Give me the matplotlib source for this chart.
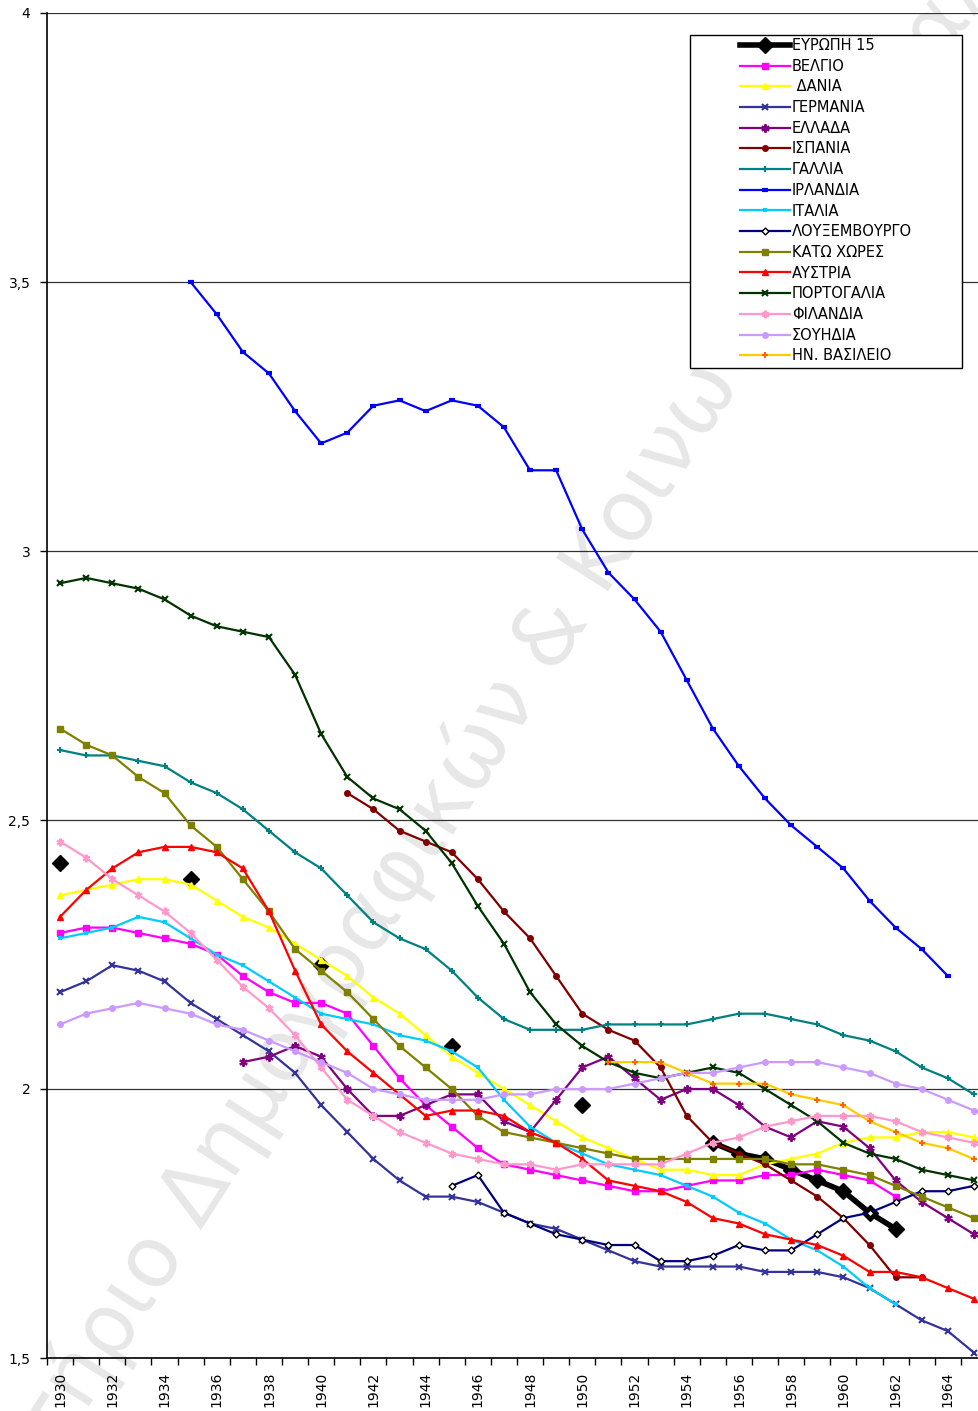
import numpy as np
import matplotlib
matplotlib.use('Agg')
import matplotlib.pyplot as plt
from matplotlib.patches import Rectangle
from matplotlib.ticker import FixedLocator, NullFormatter

YEARS = np.arange(1930, 1966)

# Europe 15: a few isolated early years, then a continuous run
EU15_YEARS = [1930, 1935, 1940, 1945, 1950, 1955, 1956, 1957, 1958, 1959, 1960, 1961, 1962]
EU15 = [2.42, 2.39, 2.23, 2.08, 1.97, 1.90, 1.88, 1.87, 1.85, 1.83, 1.81, 1.77, 1.74]

# each country: first year of data, then yearly values
BELGIUM_START = 1930
BELGIUM = [2.29, 2.30, 2.30, 2.29, 2.28, 2.27, 2.25, 2.21, 2.18, 2.16,
           2.16, 2.14, 2.08, 2.02, 1.97, 1.93, 1.89, 1.86, 1.85, 1.84,
           1.83, 1.82, 1.81, 1.81, 1.82, 1.83, 1.83, 1.84, 1.84, 1.85,
           1.84, 1.83, 1.80]
DENMARK_START = 1930
DENMARK = [2.36, 2.37, 2.38, 2.39, 2.39, 2.38, 2.35, 2.32, 2.30, 2.27,
           2.24, 2.21, 2.17, 2.14, 2.10, 2.06, 2.03, 2.00, 1.97, 1.94,
           1.91, 1.89, 1.87, 1.85, 1.85, 1.84, 1.84, 1.86, 1.87, 1.88,
           1.90, 1.91, 1.91, 1.92, 1.92, 1.91]
GERMANY_START = 1930
GERMANY = [2.18, 2.20, 2.23, 2.22, 2.20, 2.16, 2.13, 2.10, 2.07, 2.03,
           1.97, 1.92, 1.87, 1.83, 1.80, 1.80, 1.79, 1.77, 1.75, 1.74,
           1.72, 1.70, 1.68, 1.67, 1.67, 1.67, 1.67, 1.66, 1.66, 1.66,
           1.65, 1.63, 1.60, 1.57, 1.55, 1.51]
GREECE_START = 1937
GREECE = [2.05, 2.06, 2.08,
          2.06, 2.00, 1.95, 1.95, 1.97, 1.99, 1.99, 1.94, 1.92, 1.98,
          2.04, 2.06, 2.02, 1.98, 2.00, 2.00, 1.97, 1.93, 1.91, 1.94,
          1.93, 1.89, 1.83, 1.79, 1.76, 1.73]
SPAIN_START = 1941
SPAIN = [2.55, 2.52, 2.48, 2.46, 2.44, 2.39, 2.33, 2.28, 2.21,
         2.14, 2.11, 2.09, 2.04, 1.95, 1.90, 1.88, 1.86, 1.83, 1.80,
         1.76, 1.71, 1.65, 1.65]
FRANCE_START = 1930
FRANCE = [2.63, 2.62, 2.62, 2.61, 2.60, 2.57, 2.55, 2.52, 2.48, 2.44,
          2.41, 2.36, 2.31, 2.28, 2.26, 2.22, 2.17, 2.13, 2.11, 2.11,
          2.11, 2.12, 2.12, 2.12, 2.12, 2.13, 2.14, 2.14, 2.13, 2.12,
          2.10, 2.09, 2.07, 2.04, 2.02, 1.99]
IRELAND_START = 1935
IRELAND = [3.50, 3.44, 3.37, 3.33, 3.26,
           3.20, 3.22, 3.27, 3.28, 3.26, 3.28, 3.27, 3.23, 3.15, 3.15,
           3.04, 2.96, 2.91, 2.85, 2.76, 2.67, 2.60, 2.54, 2.49, 2.45,
           2.41, 2.35, 2.30, 2.26, 2.21]
ITALY_START = 1930
ITALY = [2.28, 2.29, 2.30, 2.32, 2.31, 2.28, 2.25, 2.23, 2.20, 2.17,
         2.14, 2.13, 2.12, 2.10, 2.09, 2.07, 2.04, 1.98, 1.93, 1.90,
         1.88, 1.86, 1.85, 1.84, 1.82, 1.80, 1.77, 1.75, 1.72, 1.70,
         1.67, 1.63, 1.60]
LUXEMBOURG_START = 1945
LUXEMBOURG = [1.82, 1.84, 1.77, 1.75, 1.73,
              1.72, 1.71, 1.71, 1.68, 1.68, 1.69, 1.71, 1.70, 1.70, 1.73,
              1.76, 1.77, 1.79, 1.81, 1.81, 1.82]
NETHERLANDS_START = 1930
NETHERLANDS = [2.67, 2.64, 2.62, 2.58, 2.55, 2.49, 2.45, 2.39, 2.33, 2.26,
               2.22, 2.18, 2.13, 2.08, 2.04, 2.00, 1.95, 1.92, 1.91, 1.90,
               1.89, 1.88, 1.87, 1.87, 1.87, 1.87, 1.87, 1.87, 1.86, 1.86,
               1.85, 1.84, 1.82, 1.80, 1.78, 1.76]
AUSTRIA_START = 1930
AUSTRIA = [2.32, 2.37, 2.41, 2.44, 2.45, 2.45, 2.44, 2.41, 2.33, 2.22,
           2.12, 2.07, 2.03, 1.99, 1.95, 1.96, 1.96, 1.95, 1.92, 1.90,
           1.87, 1.83, 1.82, 1.81, 1.79, 1.76, 1.75, 1.73, 1.72, 1.71,
           1.69, 1.66, 1.66, 1.65, 1.63, 1.61]
PORTUGAL_START = 1930
PORTUGAL = [2.94, 2.95, 2.94, 2.93, 2.91, 2.88, 2.86, 2.85, 2.84, 2.77,
            2.66, 2.58, 2.54, 2.52, 2.48, 2.42, 2.34, 2.27, 2.18, 2.12,
            2.08, 2.05, 2.03, 2.02, 2.03, 2.04, 2.03, 2.00, 1.97, 1.94,
            1.90, 1.88, 1.87, 1.85, 1.84, 1.83]
FINLAND_START = 1930
FINLAND = [2.46, 2.43, 2.39, 2.36, 2.33, 2.29, 2.24, 2.19, 2.15, 2.10,
           2.04, 1.98, 1.95, 1.92, 1.90, 1.88, 1.87, 1.86, 1.86, 1.85,
           1.86, 1.86, 1.86, 1.86, 1.88, 1.90, 1.91, 1.93, 1.94, 1.95,
           1.95, 1.95, 1.94, 1.92, 1.91, 1.90]
SWEDEN_START = 1930
SWEDEN = [2.12, 2.14, 2.15, 2.16, 2.15, 2.14, 2.12, 2.11, 2.09, 2.07,
          2.05, 2.03, 2.00, 1.99, 1.98, 1.98, 1.98, 1.99, 1.99, 2.00,
          2.00, 2.00, 2.01, 2.02, 2.03, 2.03, 2.04, 2.05, 2.05, 2.05,
          2.04, 2.03, 2.01, 2.00, 1.98, 1.96]
UK_START = 1951
UK = [2.05, 2.05, 2.05, 2.03, 2.01, 2.01, 2.01, 1.99, 1.98,
      1.97, 1.94, 1.92, 1.90, 1.89, 1.87]

Y_TICKS = [1.5, 2, 2.5, 3, 3.5, 4]
Y_LABELS = ['1,5', '2', '2,5', '3', '3,5', '4']
X_LABEL_YEARS = list(range(1930, 1966, 2))

WATERMARK = 'Εργαστήριο Δημογραφικών & Κοινωνικών Αναλύσεων'


def pad(start, values):
    """Spread a series over the full year range, NaN where there is no data"""
    out = np.full(len(YEARS), np.nan)
    i = start - YEARS[0]
    out[i:i + len(values)] = values
    return out


def eu15_full():
    out = np.full(len(YEARS), np.nan)
    for y, v in zip(EU15_YEARS, EU15):
        out[y - YEARS[0]] = v
    return out


ASTERISK = (6, 2, 0)

# label, data, line colour, marker, marker size, marker face, marker edge
SERIES = [
    ('ΒΕΛΓΙΟ', pad(BELGIUM_START, BELGIUM), '#FF00FF', 's', 4, '#FF00FF', '#FF00FF'),
    (' ΔΑΝΙΑ', pad(DENMARK_START, DENMARK), '#FFFF00', '^', 5, '#FFFF00', '#FFFF00'),
    ('ΓΕΡΜΑΝΙΑ', pad(GERMANY_START, GERMANY), '#333399', 'x', 4, '#333399', '#333399'),
    ('ΕΛΛΑΔΑ', pad(GREECE_START, GREECE), '#800080', ASTERISK, 6, '#800080', '#800080'),
    ('ΙΣΠΑΝΙΑ', pad(SPAIN_START, SPAIN), '#800000', 'o', 4, '#800000', '#800000'),
    ('ΓΑΛΛΙΑ', pad(FRANCE_START, FRANCE), '#008080', '+', 5, '#008080', '#008080'),
    ('ΙΡΛΑΝΔΙΑ', pad(IRELAND_START, IRELAND), '#0000FF', '_', 4, '#0000FF', '#0000FF'),
    ('ΙΤΑΛΙΑ', pad(ITALY_START, ITALY), '#00CCFF', '_', 3, '#00CCFF', '#00CCFF'),
    ('ΛΟΥΞΕΜΒΟΥΡΓΟ', pad(LUXEMBOURG_START, LUXEMBOURG), '#000080', 'D', 3.5, 'white', 'black'),
    ('ΚΑΤΩ ΧΩΡΕΣ', pad(NETHERLANDS_START, NETHERLANDS), '#808000', 's', 5, '#808000', '#808000'),
    ('ΑΥΣΤΡΙΑ', pad(AUSTRIA_START, AUSTRIA), '#FF0000', '^', 5, '#FF0000', '#FF0000'),
    ('ΠΟΡΤΟΓΑΛΙΑ', pad(PORTUGAL_START, PORTUGAL), '#003300', 'x', 5, '#003300', '#003300'),
    ('ΦΙΛΑΝΔΙΑ', pad(FINLAND_START, FINLAND), '#FF99CC', ASTERISK, 5.5, '#FF99CC', '#FF99CC'),
    ('ΣΟΥΗΔΙΑ', pad(SWEDEN_START, SWEDEN), '#CC99FF', 'o', 4, '#CC99FF', '#CC99FF'),
    ('ΗΝ. ΒΑΣΙΛΕΙΟ', pad(UK_START, UK), '#FFCC00', '+', 5, '#FF6600', '#FF6600'),
]

plt.rcParams['font.family'] = ['DejaVu Sans']

W, H = 979, 1411
fig = plt.figure(figsize=(W / 100, H / 100), dpi=100)
fig.patch.set_facecolor('white')

# plot area in pixels: left 47, top 13, bottom 1358, right runs off the image
ax = fig.add_axes([47 / W, 1 - 1358 / H, (987 - 47) / W, (1358 - 13) / H])
ax.patch.set_alpha(0)

# watermark behind everything
fig.text(508 / W, 1 - 702 / H, WATERMARK, fontsize=61, color='#e7e7e7',
         rotation=57.5, ha='center', va='center', rotation_mode='anchor', zorder=-5)

handles = []
h, = ax.plot(YEARS, eu15_full(), color='black', lw=4, marker='D', ms=8,
             mfc='black', mec='black', label='ΕΥΡΩΠΗ 15', solid_joinstyle='round')
handles.append(h)
for label, data, col, mk, ms, mfc, mec in SERIES:
    mew = 1.5 if mk in ('x', '+', ASTERISK) else 1
    if mk == '_':
        mew = 3
    h, = ax.plot(YEARS, data, color=col, lw=1.6, marker=mk, ms=ms,
                 mfc=mfc, mec=mec, mew=mew, label=label)
    handles.append(h)

ax.set_xlim(1929.5, 1965.5)
ax.set_ylim(1.5, 4)

ax.yaxis.set_major_locator(FixedLocator(Y_TICKS))
ax.set_yticklabels(Y_LABELS, fontsize=10)
ax.tick_params(axis='y', direction='out', length=5, width=1, pad=7)
ax.grid(axis='y', color='#333333', lw=0.9)
ax.set_axisbelow(True)

ax.xaxis.set_major_locator(FixedLocator(X_LABEL_YEARS))
ax.set_xticklabels([str(y) for y in X_LABEL_YEARS], rotation=90, fontsize=10)
ax.xaxis.set_minor_locator(FixedLocator(np.arange(1929.5, 1966, 1)))
ax.xaxis.set_minor_formatter(NullFormatter())
ax.tick_params(axis='x', which='major', length=0, pad=10)
ax.tick_params(axis='x', which='minor', direction='out', length=5, width=1)

for side in ('top', 'right'):
    ax.spines[side].set_visible(False)
for side in ('left', 'bottom'):
    ax.spines[side].set_color('black')
    ax.spines[side].set_linewidth(1.2)

# legend box drawn by hand so the entries can sit well inside it
frame = Rectangle((690 / W, 1 - 368 / H), 272 / W, 333 / H, transform=fig.transFigure,
                  facecolor='white', edgecolor='black', lw=1, zorder=5)
fig.patches.append(frame)
leg = fig.legend(handles=handles, loc='upper left', bbox_to_anchor=(740 / W, 1 - 38 / H),
                 frameon=False, fontsize=10.5, handlelength=3.4, handletextpad=0.15,
                 labelspacing=0.39, borderpad=0, borderaxespad=0)
leg.set_zorder(6)

fig.savefig('out.png', dpi=100)
